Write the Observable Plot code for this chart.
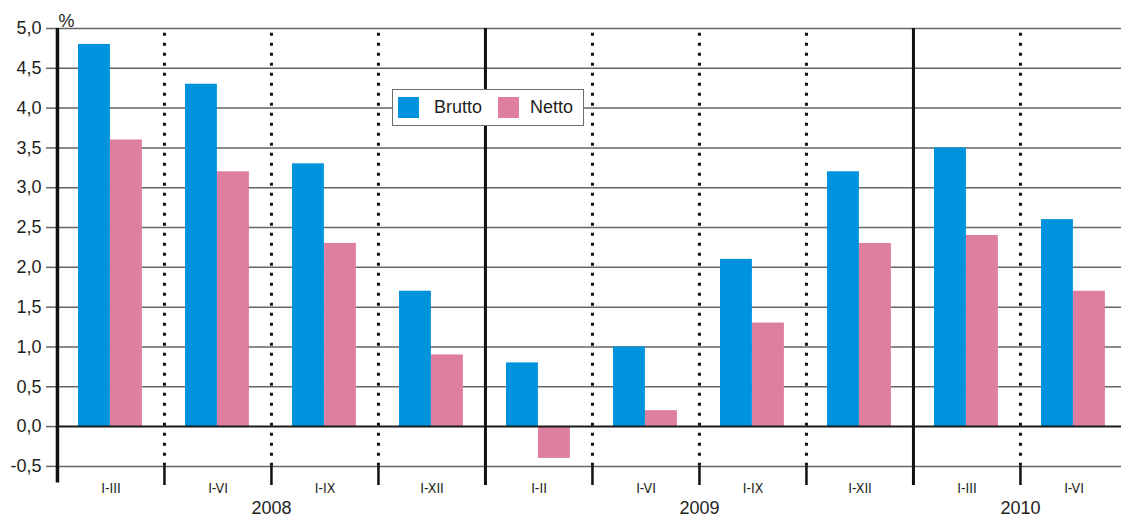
<!DOCTYPE html>
<html>
<head>
<meta charset="utf-8">
<script src="https://cdn.jsdelivr.net/npm/d3@7"></script>
<script src="https://cdn.jsdelivr.net/npm/@observablehq/plot@0.6"></script>
<style>
  body { margin: 0; background: #fff; font-family: "Liberation Sans", Arial, sans-serif; color: #231f20; }
  #wrap { position: relative; width: 1121px; height: 518px; overflow: hidden; }
  #legend { position: absolute; left: 392px; top: 89px; width: 190px; height: 35px; border: 1.5px solid #6d6e70; background: #fff; box-sizing: content-box; display: flex; align-items: center; font-size: 18px; }
  #legend .sw { width: 21px; height: 21px; display: inline-block; }
  #legend .item { display: flex; align-items: center; }
</style>
</head>
<body>
<div id="wrap"></div>
<script>
// ---- data ----
const periods = ["2008 I-III", "2008 I-VI", "2008 I-IX", "2008 I-XII", "2009 I-III", "2009 I-VI", "2009 I-IX", "2009 I-XII", "2010 I-III", "2010 I-VI"];
const periodLabels = ["I-III", "I-VI", "I-IX", "I-XII", "I-II", "I-VI", "I-IX", "I-XII", "I-III", "I-VI"];
const brutto = [4.8, 4.3, 3.3, 1.7, 0.8, 1.0, 2.1, 3.2, 3.5, 2.6];
const netto = [3.6, 3.2, 2.3, 0.9, -0.4, 0.2, 1.3, 2.3, 2.4, 1.7];
const years = ["2008", "2009", "2010"];
const yearLabelAt = ["2008 I-IX", "2009 I-IX", "2010 I-VI"];
const yearStarts = ["2009 I-III", "2010 I-III"];
const yTicks = [-0.5, 0, 0.5, 1, 1.5, 2, 2.5, 3, 3.5, 4, 4.5, 5];
const seriesNames = ["Brutto", "Netto"];
const colors = ["#0093dd", "#de7fa2"];

// ---- layout ----
const W = 1121, H = 518, mL = 56, mR = -6, mT = 28, mB = 33;
const band = (W - mL - mR) / periods.length;
const half = band / 2;

const rowsB = periods.map((p, i) => ({period: p, value: brutto[i]}));
const rowsN = periods.map((p, i) => ({period: p, value: netto[i]}));
const dotted = periods.filter((p, i) => i > 0 && !yearStarts.includes(p));
const fmt = d => d3.format(".1f")(d).replace(".", ",").replace("−", "-");

const chart = Plot.plot({
  width: W, height: H,
  marginLeft: mL, marginRight: mR, marginTop: mT, marginBottom: mB,
  style: {fontFamily: "'Liberation Sans', Arial, sans-serif", color: "#231f20", background: "white", overflow: "visible"},
  x: {type: "band", domain: periods, padding: 0, axis: null},
  y: {domain: [-0.74, 5], axis: null},
  marks: [
    Plot.ruleY(yTicks.filter(d => d !== 0), {y: d => d, stroke: "#666", strokeWidth: 1.5}),
    Plot.axisY({ticks: yTicks, tickSize: 10, tickFormat: () => "", stroke: "#666", strokeWidth: 1.5, label: null}),
    Plot.text(yTicks, {y: d => d, frameAnchor: "left", dx: -15, textAnchor: "end", text: fmt, fontSize: 18, fill: "#231f20"}),
    Plot.barY(rowsB, {x: "period", y: "value", fill: colors[0], insetLeft: 21, insetRight: band - 53}),
    Plot.barY(rowsN, {x: "period", y: "value", fill: colors[1], insetLeft: 53, insetRight: band - 85}),
    Plot.ruleY([0], {y: d => d, stroke: "#1a1a1a", strokeWidth: 2}),
    Plot.ruleX(dotted, {x: d => d, dx: -half, y1: 4.94, y2: -0.5, stroke: "#111", strokeWidth: 3, strokeDasharray: "3,7"}),
    Plot.ruleX(dotted, {x: d => d, dx: -half, y1: -0.5, y2: -0.74, stroke: "#111", strokeWidth: 2.5}),
    Plot.ruleX(yearStarts, {x: d => d, dx: -half, y1: 5, y2: -0.74, stroke: "#111", strokeWidth: 3}),
    Plot.ruleX([periods[0]], {x: d => d, dx: -half, y1: 5, y2: -0.71, stroke: "#111", strokeWidth: 3.5}),
    Plot.text(periods, {x: d => d, y: -0.5, dy: 22, text: periodLabels, fontSize: 14, fontFamily: "'Liberation Sans Narrow', 'DejaVu Sans Condensed', sans-serif", fill: "#231f20"}),
    Plot.text(years, {x: yearLabelAt, dx: -half, y: -0.74, dy: 23, text: years, fontSize: 18, fill: "#231f20"}),
    Plot.text(["%"], {frameAnchor: "top-left", dx: 2, dy: -14, text: d => d, fontSize: 18, fill: "#231f20"})
  ]
});

const wrap = document.getElementById("wrap");
wrap.appendChild(chart);

const legend = document.createElement("div");
legend.id = "legend";
seriesNames.forEach((name, i) => {
  const item = document.createElement("span");
  item.className = "item";
  item.style.marginLeft = i === 0 ? "5px" : "16px";
  const sw = document.createElement("span");
  sw.className = "sw";
  sw.style.background = colors[i];
  const lab = document.createElement("span");
  lab.textContent = name;
  lab.style.marginLeft = i === 0 ? "15px" : "11px";
  item.appendChild(sw);
  item.appendChild(lab);
  legend.appendChild(item);
});
wrap.appendChild(legend);
</script>
</body>
</html>
